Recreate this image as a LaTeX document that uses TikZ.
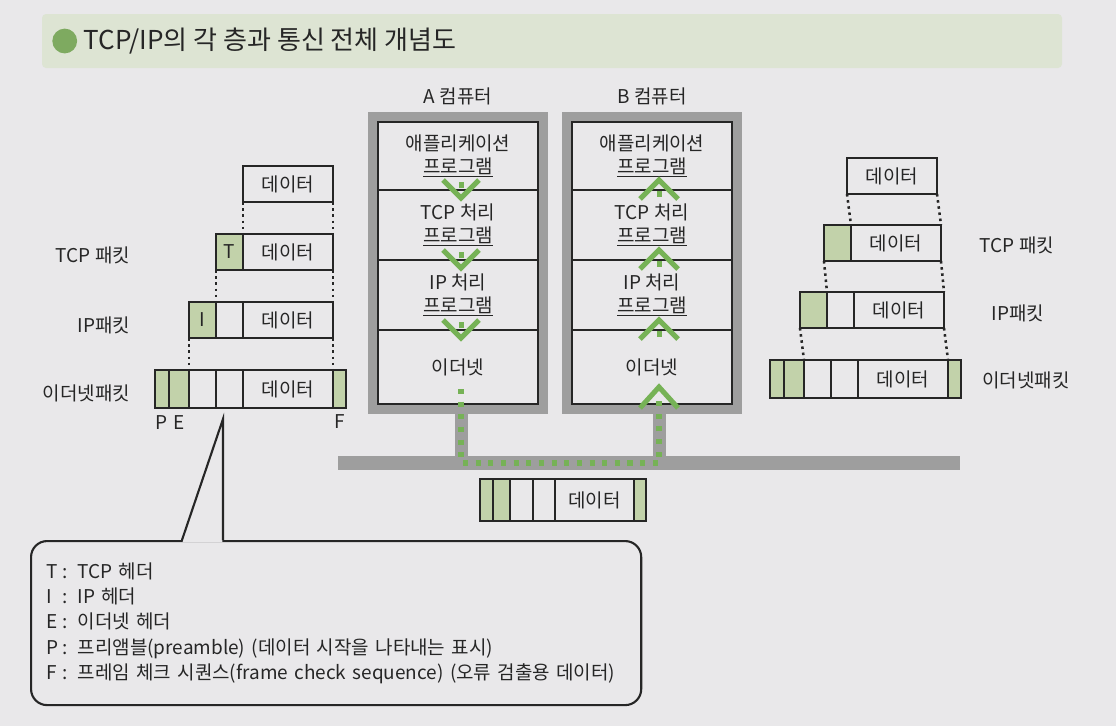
\documentclass[tikz,border=0pt]{standalone}
\usepackage{fontspec}
\setmainfont{Noto Sans CJK KR}
\usetikzlibrary{positioning,fit,calc}
\definecolor{page}{RGB}{233,232,234}
\definecolor{ink}{RGB}{38,38,38}
\definecolor{greenpale}{RGB}{194,210,170}
\definecolor{greenmid}{RGB}{118,178,86}
\definecolor{greenbar}{RGB}{221,228,211}
\definecolor{greenball}{RGB}{126,170,96}
\definecolor{framegray}{RGB}{158,158,158}

\begin{document}
\begin{tikzpicture}[x=0.025cm,y=-0.025cm,
  every node/.style={font=\fontsize{13.5}{16.5}\selectfont,text=ink,align=center},
  cell/.style={draw=ink,line width=1.5pt,inner sep=0pt,outer sep=0pt,minimum height=0.9cm},
  datacell/.style={cell,minimum width=2.25cm},
  hdrcell/.style={cell,minimum width=0.675cm},
  greencell/.style={fill=greenpale},
  ethrow/.style={minimum height=0.95cm},
  layer/.style={draw=ink,line width=1.6pt,inner sep=0pt,outer sep=0pt,minimum width=4cm},
  compframe/.style={draw=framegray,line width=0.225cm,inner sep=0.14cm},
  bus/.style={draw=framegray,line width=0.34cm},
  flow/.style={draw=greenmid,line width=3.6pt,dash pattern=on 3.6pt off 5.4pt},
  chev/.style={draw=greenmid,line width=3.6pt},
  dots/.style={draw=ink,line width=1.8pt,dash pattern=on 1.8pt off 2.6pt},
  keybox/.style={draw=ink,line width=1.5pt,rounded corners=0.4cm},
  keyline/.style={draw=ink,line width=1.5pt}]
  \fill[page] (0,0) rectangle (1116,726);
  \useasboundingbox (0,0) rectangle (1116,726);

  % title
  \fill[greenbar,rounded corners=0.1cm] (42,14) rectangle (1062,68);
  \node[anchor=west,font=\fontsize{18.5}{22}\selectfont] (title) at (79,41) {TCP/IP의 각 층과 통신 전체 개념도};
  \node[circle,fill=greenball,inner sep=0pt,minimum size=0.62cm,left=0.04cm of title] (bullet) {};

  % sending side packets
  \node[datacell] (l0) at (288,184) {데이터};
  \node[datacell] (l1d) at (288,252) {데이터};
  \node[hdrcell,greencell,left=0pt of l1d] (l1t) {T};
  \node[datacell] (l2d) at (288,320) {데이터};
  \node[hdrcell,left=0pt of l2d] (l2b) {};
  \node[hdrcell,greencell,left=0pt of l2b] (l2i) {I};
  \node[datacell,ethrow] (l3d) at (288,389) {데이터};
  \node[hdrcell,ethrow,left=0pt of l3d] (l3b2) {};
  \node[hdrcell,ethrow,left=0pt of l3b2] (l3b1) {};
  \node[cell,ethrow,greencell,minimum width=0.5cm,left=0pt of l3b1] (l3e) {};
  \node[cell,ethrow,greencell,minimum width=0.35cm,left=0pt of l3e] (l3p) {};
  \node[cell,ethrow,greencell,minimum width=0.325cm,right=0pt of l3d] (l3f) {};
  \draw[dots] (l0.south west) -- (l1d.north west);
  \draw[dots] (l0.south east) -- (l1d.north east);
  \draw[dots] (l1t.south west) -- (l2b.north west);
  \draw[dots] (l1d.south east) -- (l2d.north east);
  \draw[dots] (l2i.south west) -- (l3b1.north west);
  \draw[dots] (l2d.south east) -- (l3d.north east);
  \node[anchor=east] (ltcp) at (135,255) {TCP 패킷};
  \node[anchor=east] (lip) at (135,325) {IP패킷};
  \node[anchor=east] (leth) at (135,393) {이더넷패킷};
  \node[below=0.06cm of l3p] (lp) {P};
  \node[below=0.06cm of l3e] (le) {E};
  \node[below=0.03cm of l3f] (lf) {F};

  % receiving side packets
  \node[datacell] (r0) at (892,176) {데이터};
  \node[datacell] (r1d) at (896,243) {데이터};
  \node[hdrcell,greencell,left=0pt of r1d] (r1t) {};
  \node[datacell] (r2d) at (899,310) {데이터};
  \node[hdrcell,left=0pt of r2d] (r2b) {};
  \node[hdrcell,greencell,left=0pt of r2b] (r2i) {};
  \node[datacell,ethrow] (r3d) at (903,379) {데이터};
  \node[hdrcell,ethrow,left=0pt of r3d] (r3b2) {};
  \node[hdrcell,ethrow,left=0pt of r3b2] (r3b1) {};
  \node[cell,ethrow,greencell,minimum width=0.5cm,left=0pt of r3b1] (r3e) {};
  \node[cell,ethrow,greencell,minimum width=0.35cm,left=0pt of r3e] (r3p) {};
  \node[cell,ethrow,greencell,minimum width=0.325cm,right=0pt of r3d] (r3f) {};
  \draw[dots] (r0.south west) -- (r1d.north west);
  \draw[dots] (r0.south east) -- (r1d.north east);
  \draw[dots] (r1t.south west) -- (r2b.north west);
  \draw[dots] (r1d.south east) -- (r2d.north east);
  \draw[dots] (r2i.south west) -- (r3b1.north west);
  \draw[dots] (r2d.south east) -- (r3d.north east);
  \node (rtcp) at (1017,245) {TCP 패킷};
  \node (rip) at (1018,313) {IP패킷};
  \node (reth) at (1026,380) {이더넷패킷};

  % computer A
  \node[layer,minimum height=1.7cm] (a1) at (458,156) {애플리케이션\\\underline{프로그램}};
  \node[layer,minimum height=1.75cm,below=0pt of a1] (a2) {TCP 처리\\\underline{프로그램}};
  \node[layer,minimum height=1.75cm,below=0pt of a2] (a3) {IP 처리\\\underline{프로그램}};
  \node[layer,minimum height=1.85cm,below=0pt of a3] (a4) {이더넷};
  \node[compframe,fit=(a1)(a4)] (fa) {};
  \node[above=0.06cm of fa] (labA) {A 컴퓨터};

  % computer B
  \node[layer,minimum height=1.7cm] (b1) at (652,156) {애플리케이션\\\underline{프로그램}};
  \node[layer,minimum height=1.75cm,below=0pt of b1] (b2) {TCP 처리\\\underline{프로그램}};
  \node[layer,minimum height=1.75cm,below=0pt of b2] (b3) {IP 처리\\\underline{프로그램}};
  \node[layer,minimum height=1.85cm,below=0pt of b3] (b4) {이더넷};
  \node[compframe,fit=(b1)(b4)] (fb) {};
  \node[above=0.06cm of fb] (labB) {B 컴퓨터};

  % network
  \coordinate (busL) at (338,463);
  \coordinate (busR) at (960,463);
  \coordinate (tapA) at (461,463);
  \coordinate (tapB) at (659,463);
  \draw[bus] (busL) -- (busR);
  \draw[bus,line width=0.325cm] (tapA) -- (tapA |- fa.south);
  \draw[bus,line width=0.325cm] (tapB) -- (tapB |- fb.south);
  \coordinate (flowA) at (461,389);
  \coordinate (flowB) at (659,398);
  \draw[flow] (flowA) -- (tapA) -- (tapB) -- (flowB);

  % down through A
  \draw[chev] (443,180) -- (461,198) -- (479,180);
  \fill[greenmid] (458.5,182) rectangle (463.5,188);
  \draw[chev] (443,250) -- (461,268) -- (479,250);
  \fill[greenmid] (458.5,252) rectangle (463.5,258);
  \draw[chev] (443,320) -- (461,338) -- (479,320);
  \fill[greenmid] (458.5,322) rectangle (463.5,328);
  % up through B
  \draw[chev] (640,199) -- (659,180) -- (678,199);
  \fill[greenmid] (656.5,191) rectangle (661.5,197);
  \draw[chev] (640,269) -- (659,250) -- (678,269);
  \fill[greenmid] (656.5,261) rectangle (661.5,267);
  \draw[chev] (640,339) -- (659,320) -- (678,339);
  \fill[greenmid] (656.5,331) rectangle (661.5,337);
  \draw[chev] (640,408) -- (659,387) -- (678,408);

  % frame on the wire
  \node[cell,minimum width=1.975cm,minimum height=1.05cm] (wd) at (594.5,500) {데이터};
  \node[cell,minimum width=0.55cm,minimum height=1.05cm,left=0pt of wd] (wb2) {};
  \node[cell,minimum width=0.575cm,minimum height=1.05cm,left=0pt of wb2] (wb1) {};
  \node[cell,greencell,minimum width=0.425cm,minimum height=1.05cm,left=0pt of wb1] (we) {};
  \node[cell,greencell,minimum width=0.325cm,minimum height=1.05cm,left=0pt of we] (wp) {};
  \node[cell,greencell,minimum width=0.3cm,minimum height=1.05cm,right=0pt of wd] (wf) {};

  % legend
  \node[keybox,anchor=north west,text width=14.5cm,inner xsep=0.375cm,minimum height=4.1cm,align=left,font=\fontsize{13.5}{18}\selectfont] (key) at (30,540) {
    \makebox[0.42cm][l]{T}: TCP 헤더\\
    \makebox[0.42cm][l]{I}: IP 헤더\\
    \makebox[0.42cm][l]{E}: 이더넷 헤더\\
    \makebox[0.42cm][l]{P}: 프리앰블(preamble) (데이터 시작을 나타내는 표시)\\
    \makebox[0.42cm][l]{F}: 프레임 체크 시퀀스(frame check sequence) (오류 검출용 데이터)
  };
  \coordinate (tip) at (223,419);
  \coordinate (tailL) at ($(key.north west)+(152,0)$);
  \coordinate (tailR) at ($(key.north west)+(193,0)$);
  \fill[page] ($(tailL)+(0.6,2)$) -- (tip) -- ($(tailR)+(-0.6,2)$) -- cycle;
  \draw[keyline] (tailL) -- (tip) -- (tailR);
\end{tikzpicture}
\end{document}
